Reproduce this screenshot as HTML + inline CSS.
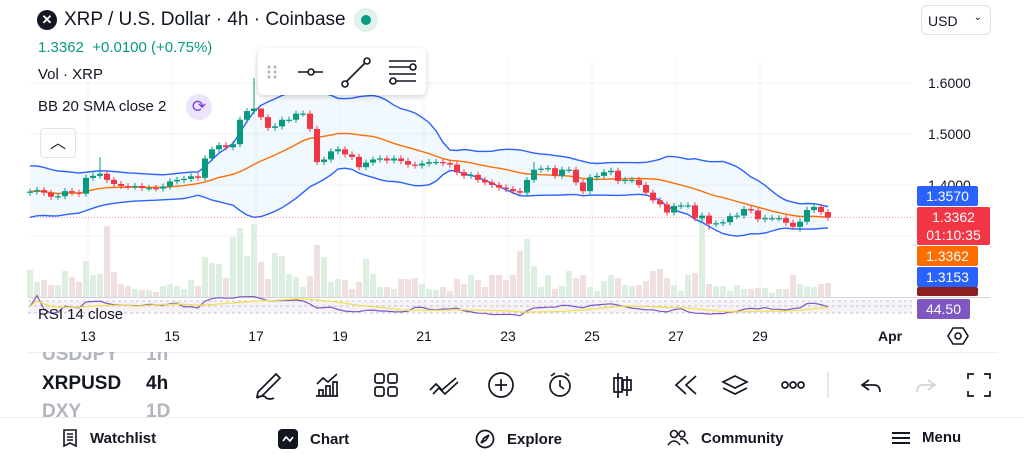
<!DOCTYPE html>
<html><head><meta charset="utf-8">
<style>
*{margin:0;padding:0;box-sizing:border-box}
body{width:1024px;height:461px;overflow:hidden;background:#fff;font-family:"Liberation Sans",sans-serif;color:#131722;position:relative}
.abs{position:absolute;white-space:nowrap}
.lbl{position:absolute;left:917px;width:61px;color:#fff;font-size:14px;text-align:center;border-radius:2px;line-height:20px}
.nav{position:absolute;top:429px;font-size:15px;font-weight:bold;display:flex;align-items:center;gap:12px}
</style></head><body>
<svg id="chart" width="1024" height="461" style="position:absolute;left:0;top:0"></svg>

<div class="abs" style="left:37px;top:10px;width:20px;height:20px;border-radius:50%;background:#131722;color:#fff;font-size:13px;text-align:center;line-height:20px;font-weight:bold">✕</div>
<div class="abs" style="left:64px;top:9px;font-size:19px">XRP / U.S. Dollar · 4h · Coinbase</div>
<div class="abs" style="left:354px;top:8px;width:24px;height:24px;border-radius:50%;background:#dff2ee"><div style="margin:7px;width:10px;height:10px;border-radius:50%;background:#089981"></div></div>
<div class="abs" style="left:921px;top:5px;width:70px;height:30px;border:1px solid #e0e3eb;border-radius:6px;font-size:14px;padding:7px 0 0 6px">USD<span style="position:absolute;right:8px;top:6px;font-size:10px">⌄</span></div>
<div class="abs" style="left:38px;top:39px;font-size:15px;color:#089981">1.3362 &nbsp;+0.0100 (+0.75%)</div>
<div class="abs" style="left:38px;top:66px;font-size:15px">Vol · XRP</div>
<div class="abs" style="left:38px;top:98px;font-size:15px">BB 20 SMA close 2</div>
<div class="abs" style="left:186px;top:94px;width:26px;height:26px;border-radius:50%;background:#ece4fb;color:#7b3fe4;text-align:center;font-size:17px;line-height:26px">⟳</div>
<div class="abs" style="left:40px;top:128px;width:36px;height:30px;border:1px solid #e0e3eb;border-radius:4px;text-align:center;font-size:16px;line-height:30px">︿</div>

<div class="abs" style="left:258px;top:48px;width:168px;height:47px;background:#fff;border-radius:6px;box-shadow:0 2px 6px rgba(0,0,0,.18)">
<svg width="168" height="47"><g fill="#b2b5be"><circle cx="11" cy="19" r="1.5"/><circle cx="17" cy="19" r="1.5"/><circle cx="11" cy="24" r="1.5"/><circle cx="17" cy="24" r="1.5"/><circle cx="11" cy="29" r="1.5"/><circle cx="17" cy="29" r="1.5"/></g>
<g stroke="#131722" stroke-width="1.6" fill="#fff"><line x1="40" y1="24" x2="65" y2="24"/><circle cx="53" cy="24" r="3"/><line x1="87" y1="35" x2="108" y2="14"/><circle cx="87" cy="36" r="3"/><circle cx="109" cy="13" r="3"/><line x1="131" y1="13" x2="158" y2="13"/><line x1="131" y1="19" x2="158" y2="19"/><line x1="131" y1="26" x2="158" y2="26"/><line x1="131" y1="33" x2="158" y2="33"/><circle cx="155" cy="19" r="3"/><circle cx="135" cy="33" r="3"/></g></svg></div>

<div class="abs" style="left:928px;top:75px;font-size:14px">1.6000</div>
<div class="abs" style="left:928px;top:126px;font-size:14px">1.5000</div>
<div class="abs" style="left:928px;top:177px;font-size:14px">1.4000</div>
<div class="lbl" style="top:186px;background:#2962ff">1.3570</div>
<div class="lbl" style="top:207px;width:73px;height:38px;background:#f23645;line-height:18px;padding-top:1px">1.3362<br>01:10:35</div>
<div class="lbl" style="top:246px;background:#ff6d00">1.3362</div>
<div class="lbl" style="top:267px;background:#2962ff">1.3153</div>
<div class="lbl" style="top:287px;height:9px;background:#8b1e1e;overflow:hidden"></div>
<div class="lbl" style="top:299px;width:53px;background:#7e57c2">44.50</div>
<div class="abs" style="left:38px;top:306px;height:13px;overflow:hidden;font-size:15px;color:#131722">RSI 14 close</div>

<div id="xt"></div>
<div class="abs" style="left:878px;top:328px;font-size:14px;font-weight:bold">Apr</div>
<svg class="abs" style="left:947px;top:326px" width="22" height="20"><polygon points="6,2 16,2 21,10 16,18 6,18 1,10" fill="none" stroke="#131722" stroke-width="1.6"/><circle cx="11" cy="10" r="3" fill="none" stroke="#131722" stroke-width="1.6"/></svg>
<div class="abs" style="left:28px;top:352px;width:970px;border-top:1px solid #eceef2"></div>

<div class="abs" style="left:42px;top:352px;width:135px;height:65px;overflow:hidden">
<div style="position:absolute;top:-8px;font-size:19px;color:#b2b5be;font-weight:bold">USDJPY <span style="position:absolute;left:104px">1h</span></div>
<div style="position:absolute;top:21px;font-size:19px;font-weight:bold;width:84px;overflow:hidden">XRPUSD</div><div style="position:absolute;left:104px;top:21px;font-size:19px;font-weight:bold">4h</div>
<div style="position:absolute;top:49px;font-size:19px;color:#b2b5be;font-weight:bold">DXY <span style="position:absolute;left:104px">1D</span></div></div>

<svg class="abs" style="left:250px;top:368px" width="760" height="32" fill="none" stroke="#131722" stroke-width="1.7">
<path d="M8 24 L26 6 L30 10 L12 28 L7 29 Z M7 30 Q14 26 16 30 Q20 32 24 30"/>
<path d="M66 28 H88 M69 28 V22 H73 V28 M76 28 V18 H80 V28 M83 28 V14 H87 V28 M67 16 L73 10 L78 14 L87 6"/>
<rect x="125" y="6" width="9" height="9" rx="2"/><rect x="138" y="6" width="9" height="9" rx="2"/><rect x="125" y="19" width="9" height="9" rx="2"/><rect x="138" y="19" width="9" height="9" rx="2"/>
<path d="M180 22 L186 16 L192 22 L206 10 M183 26 L189 20 L195 26 L208 14"/>
<circle cx="251" cy="17" r="12"/><path d="M251 11 V23 M245 17 H257"/>
<circle cx="310" cy="18" r="10"/><path d="M310 12 V18 L314 21 M301 8 L305 5 M319 8 L315 5"/>
<path d="M368 5 V30 M364 10 H372 V24 H364 Z M377 8 V28 M373 12 H381 V22 H373 Z"/>
<path d="M436 8 L426 17 L436 26 M446 8 L436 17 L446 26"/>
<path d="M485 8 L497 14 L485 20 L473 14 Z M473 20 L485 26 L497 20"/>
<circle cx="535" cy="17" r="3"/><circle cx="543" cy="17" r="3"/><circle cx="551" cy="17" r="3"/>
<path d="M578 4 V30" stroke="#e0e3eb"/>
<path d="M619 12 L612 17 L619 22 M612 17 H624 Q630 17 630 24"/>
<path d="M678 12 L685 17 L678 22 M685 17 H673 Q667 17 667 24" stroke="#d1d4dc"/>
<path d="M718 11 V6 H724 M734 6 H740 V11 M740 23 V28 H734 M724 28 H718 V23"/></svg>
<div class="abs" style="left:0;top:417px;width:1024px;border-top:1px solid #eceef2"></div>

<div class="nav" style="left:62px"><svg width="16" height="18" fill="none" stroke="#131722" stroke-width="1.6"><path d="M2 1 H14 V17 L8 14 L2 17 Z M5 5 H11 M5 8 H11 M5 11 H11"/></svg>Watchlist</div>
<div class="nav" style="left:278px"><svg width="20" height="20"><rect width="20" height="20" rx="4" fill="#131722"/><path d="M5 12 L8 8 L12 12 L15 8" stroke="#fff" stroke-width="1.6" fill="none"/></svg>Chart</div>
<div class="nav" style="left:475px"><svg width="20" height="20" fill="none" stroke="#131722" stroke-width="1.7"><circle cx="10" cy="10" r="8.5"/><path d="M14 6 L11 11 L6 14 L9 9 Z"/></svg>Explore</div>
<div class="nav" style="left:667px"><svg width="22" height="18" fill="none" stroke="#131722" stroke-width="1.6"><circle cx="7" cy="5" r="3.5"/><circle cx="15" cy="5" r="3"/><path d="M1 16 Q7 8 13 16 M13 10 Q18 9 21 15"/></svg>Community</div>
<div class="nav" style="left:892px"><svg width="18" height="16" stroke="#131722" stroke-width="2"><path d="M0 3 H18 M0 8 H18 M0 13 H18"/></svg>Menu</div>

<script>
const closes=[1.387,1.39,1.385,1.377,1.378,1.388,1.385,1.383,1.414,1.418,1.422,1.41,1.402,1.398,1.397,1.398,1.394,1.394,1.393,1.397,1.407,1.41,1.412,1.417,1.414,1.452,1.47,1.478,1.474,1.48,1.528,1.545,1.55,1.533,1.512,1.515,1.528,1.528,1.54,1.54,1.51,1.445,1.45,1.466,1.47,1.46,1.455,1.435,1.444,1.45,1.452,1.448,1.452,1.447,1.44,1.438,1.442,1.445,1.445,1.443,1.44,1.425,1.418,1.42,1.41,1.405,1.40,1.395,1.392,1.388,1.385,1.41,1.43,1.432,1.433,1.418,1.43,1.43,1.405,1.388,1.415,1.418,1.425,1.428,1.408,1.41,1.41,1.40,1.385,1.37,1.362,1.346,1.359,1.36,1.36,1.335,1.34,1.324,1.325,1.327,1.339,1.34,1.353,1.35,1.333,1.335,1.335,1.335,1.326,1.318,1.328,1.351,1.357,1.347,1.3362];
const extraHigh={10:1.455,32:1.61,33:1.545,72:1.445};
const extraLow={110:1.308,97:1.312};
const volumes=[27,15,17,12,12,26,20,15,36,22,23,71,25,13,11,8,7,7,5,11,13,11,8,17,11,40,34,33,19,60,69,41,73,35,18,44,41,23,20,10,21,52,40,15,18,17,8,15,38,23,10,10,8,18,18,19,13,8,7,10,6,18,13,22,17,10,22,22,17,22,46,58,31,10,22,8,11,26,19,22,10,6,16,22,19,12,11,12,16,26,28,19,12,6,22,24,80,13,11,11,6,12,8,8,9,9,4,8,8,22,13,11,10,13,14];
const dayLabels=["13","15","17","19","21","23","25","27","29"];
const yTicks=[1.6,1.5,1.4,1.3];

const NS="http://www.w3.org/2000/svg",svg=document.getElementById('chart');
const X0=30,STEP=7;
const xOf=i=>X0+STEP*i;
const yOf=p=>83+(1.6-p)*510;
const dayX=d=>88+(d-13)*42;
function mk(t,a,parent){const e=document.createElementNS(NS,t);for(const k in a)e.setAttribute(k,a[k]);(parent||svg).appendChild(e);return e;}
dayLabels.forEach(d=>{const l=mk('line',{x1:dayX(+d),x2:dayX(+d),y1:60,y2:320,stroke:'#f2f3f5'});

});
yTicks.forEach(p=>{const l=mk('line',{x1:28,x2:912,y1:yOf(p),y2:yOf(p),stroke:'#f2f3f5'});

});
const vmax=Math.max(...volumes);
volumes.forEach((v,i)=>{const up=i==0||closes[i]>=closes[i-1];const h=v/vmax*80;
const r=mk('rect',{x:xOf(i)-3,y:297-h,width:6,height:h,fill:up?'#dcefe0':'#f1e0e0'});

});
const mid=[],up=[],lo=[];
closes.forEach((c,i)=>{const w=closes.slice(Math.max(0,i-19),i+1);const m=w.reduce((a,b)=>a+b,0)/w.length;
const sd=Math.sqrt(w.reduce((a,b)=>a+(b-m)*(b-m),0)/w.length);const s=Math.max(sd,0.01+(20-w.length)*0.0008);mid.push(m);up.push(m+2*s);lo.push(m-2*s);});
const pts=a=>a.map((p,i)=>xOf(i)+','+yOf(p).toFixed(1)).join(' ');
const fill=mk('polygon',{points:pts(up)+' '+lo.map((p,i)=>xOf(i)+','+yOf(p).toFixed(1)).reverse().join(' '),fill:'rgba(33,150,243,0.06)'});


[[up,'#2962ff','bb-upper'],[lo,'#2962ff','bb-lower'],[mid,'#ff6d00','bb-basis']].forEach(([a,c,n])=>{
const l=mk('polyline',{points:pts(a),fill:'none',stroke:c,'stroke-width':1.4});

});
const pl=mk('line',{x1:28,x2:916,y1:yOf(closes[closes.length-1]),y2:yOf(closes[closes.length-1]),stroke:'#f23645','stroke-dasharray':'1 2','stroke-opacity':0.5});


closes.forEach((c,i)=>{const o=i?closes[i-1]:c-0.002;const upC=c>=o;const col=upC?'#089981':'#f23645';
const hi=extraHigh[i]||Math.max(o,c)+0.006,lw=extraLow[i]||Math.min(o,c)-0.006;
const g=mk('g',{});


mk('line',{x1:xOf(i),x2:xOf(i),y1:yOf(hi),y2:yOf(lw),stroke:col,'stroke-width':1},g);
const t=yOf(Math.max(o,c)),b=yOf(Math.min(o,c));
mk('rect',{x:xOf(i)-3,y:t,width:6,height:Math.max(b-t,1.2),fill:col},g);});
mk('line',{x1:28,x2:990,y1:297.5,y2:297.5,stroke:'#d1d4dc'});
mk('rect',{x:28,y:301,width:884,height:12,fill:'rgba(126,87,194,0.08)'});
[301,306,313].forEach(y=>mk('line',{x1:28,x2:912,y1:y,y2:y,stroke:'#b2b5be','stroke-dasharray':'3 3','stroke-width':0.8}));
const rsi=[];closes.forEach((c,i)=>{let g=0,l=0;for(let k=Math.max(1,i-13);k<=i;k++){const d=closes[k]-closes[k-1];if(d>0)g+=d;else l-=d;}rsi.push(g+l?100*g/(g+l):50);});
const rsiMa=rsi.map((v,i)=>{const w=rsi.slice(Math.max(0,i-13),i+1);return w.reduce((a,b)=>a+b,0)/w.length;});
const ry=v=>313-(v-20)/60*13;
const rl=mk('polyline',{points:rsi.map((v,i)=>xOf(i)+','+ry(v).toFixed(1)).join(' '),fill:'none',stroke:'#7e57c2','stroke-width':1.2});


const rm=mk('polyline',{points:rsiMa.map((v,i)=>xOf(i)+','+ry(v).toFixed(1)).join(' '),fill:'none',stroke:'#f5e042','stroke-width':1.2});


const xt=document.getElementById('xt');
dayLabels.forEach(d=>{const e=document.createElement('div');e.className='abs';e.textContent=d;
e.style.cssText='left:'+(dayX(+d)-8)+'px;top:328px;font-size:14px;width:16px;text-align:center';


xt.appendChild(e);});
</script>
</body></html>
